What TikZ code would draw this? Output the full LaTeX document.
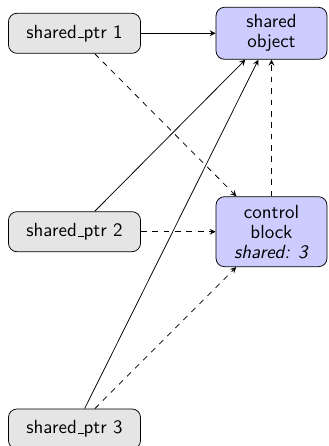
\documentclass[tikz,border=0pt]{standalone}
\usetikzlibrary{arrows}
% short ruled underscore, as in the classic text encoding
\newcommand\ulbar{\leavevmode\kern.06em\vbox{\hrule width.3em}}
\begin{document}
\begin{tikzpicture}[x=0.527pt, y=-0.527pt,
  every node/.style={font=\fontsize{10}{10.5}\selectfont\sffamily, align=center, inner sep=2pt},
  ptrbox/.style={draw, rounded corners=4.5pt, fill=gray!20, minimum width=69.6pt, minimum height=21.1pt},
  objbox/.style={draw, rounded corners=4.5pt, fill=blue!20, minimum width=58.5pt},
  strong/.style={-stealth},
  weak/.style={-stealth, dashed}]
  \useasboundingbox (0,0) rectangle (328,446);

  % smart pointers
  \node[ptrbox] (p1) at (74.5,33.3) {shared\ulbar ptr 1};
  \node[ptrbox] (p2) at (74.5,231.7) {shared\ulbar ptr 2};
  \node[ptrbox] (p3) at (74.5,429) {shared\ulbar ptr 3};

  % managed object and its control block
  \node[objbox, minimum height=27.4pt] (obj) at (271.5,33.3) {shared\\object};
  \node[objbox, minimum height=36.9pt] (cb) at (271.5,231.7) {control\\block\\\textit{shared: 3}};

  % pointers to the object
  \draw[strong] (p1) -- (obj);
  \draw[strong] (p2) -- (obj);
  \draw[strong] (p3) -- (obj);

  % pointers to the control block
  \draw[weak] (p1) -- (cb);
  \draw[weak] (p2) -- (cb);
  \draw[weak] (p3) -- (cb);
  \draw[weak] (cb) -- (obj);
\end{tikzpicture}
\end{document}
